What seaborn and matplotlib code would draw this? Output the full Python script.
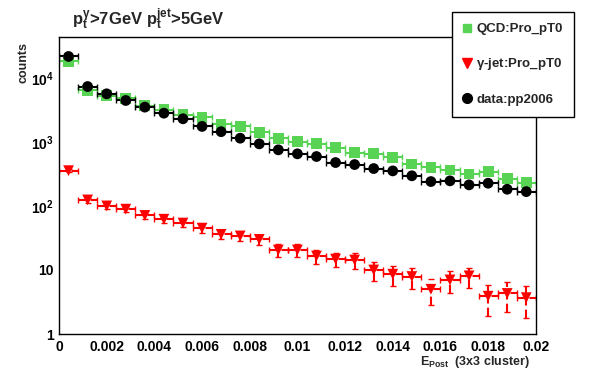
import numpy as np
import pandas as pd
import matplotlib
matplotlib.use("Agg")
import matplotlib.pyplot as plt
import matplotlib.ticker as mticker
from matplotlib.lines import Line2D
import seaborn as sns

# bin centres (0.0008 wide bins, 0 .. 0.02)
e_post = [0.0004, 0.0012, 0.0020, 0.0028, 0.0036, 0.0044, 0.0052, 0.0060, 0.0068,
          0.0076, 0.0084, 0.0092, 0.0100, 0.0108, 0.0116, 0.0124, 0.0132, 0.0140,
          0.0148, 0.0156, 0.0164, 0.0172, 0.0180, 0.0188, 0.0196]

qcd = [18000, 6330, 5220, 4800, 3650, 3160, 2650, 2430, 1900, 1740, 1400, 1140, 1000,
       930, 815, 680, 650, 577, 450, 400, 365, 316, 344, 265, 230]
gjet = [355, 124, 100, 89, 71, 62, 54, 45, 36, 34, 30, 20.5, 20.5, 16.5, 14.8, 14.3,
        10, 8.6, 7.9, 5.0, 7.0, 8.1, 3.9, 4.3, 3.7]
gjet_err = [18.8, 11.1, 10, 9.4, 8.4, 7.9, 7.3, 6.7, 6.0, 5.8, 5.5, 4.5, 4.5, 4.1, 3.8,
            3.8, 3.2, 2.9, 2.8, 2.2, 2.6, 2.8, 2.0, 2.1, 1.9]
data = [21500, 7300, 5620, 4420, 3480, 2800, 2290, 1740, 1440, 1140, 930, 750, 650,
        590, 475, 442, 383, 352, 295, 240, 246, 213, 226, 182, 167]

labels = ["QCD:Pro_pT0", r"$\gamma$-jet:Pro_pT0", "data:pp2006"]
x_ticks = [0, 0.002, 0.004, 0.006, 0.008, 0.01, 0.012, 0.014, 0.016, 0.018, 0.02]

green = "#59d354"
red = "#ff0000"
black = "#000000"

sns.set_theme(style="white")
plt.rcParams["font.family"] = ["Liberation Sans", "DejaVu Sans"]
plt.rcParams["font.weight"] = "bold"
plt.rcParams["mathtext.default"] = "bf"
plt.rcParams["mathtext.fontset"] = "custom"
plt.rcParams["mathtext.bf"] = "Liberation Sans:bold"
plt.rcParams["mathtext.rm"] = "Liberation Sans:bold"
plt.rcParams["mathtext.it"] = "Liberation Sans:bold"

df = pd.DataFrame({
    "E": e_post * 3,
    "counts": qcd + gjet + data,
    "sample": [labels[0]] * 25 + [labels[1]] * 25 + [labels[2]] * 25,
})

fig = plt.figure(figsize=(5.96, 3.72), dpi=100)
ax = fig.add_axes([0.099, 0.102, 0.8, 0.7985])

halfw = 0.0004
ax.errorbar(e_post, qcd, xerr=halfw, fmt="none", ecolor=green, elinewidth=1.5,
            capsize=2, zorder=1)
ax.errorbar(e_post, gjet, xerr=halfw, yerr=gjet_err, fmt="none", ecolor=red,
            elinewidth=1.5, capsize=2, zorder=1)
ax.errorbar(e_post, data, xerr=halfw, fmt="none", ecolor=black, elinewidth=1.5,
            capsize=2.5, zorder=3)
# ROOT-style dashed bars for the simulation samples
for coll in ax.collections:
    coll.set_linestyle((0, (4, 2)))
ax.collections[-1].set_linestyle("-")

sns.scatterplot(data=df, x="E", y="counts", hue="sample", style="sample",
                palette={labels[0]: green, labels[1]: red, labels[2]: black},
                markers={labels[0]: "s", labels[1]: "v", labels[2]: "o"},
                s=60, edgecolor="none", linewidth=0, legend=False, ax=ax, zorder=4)

ax.set_yscale("log")
ax.set_xlim(0, 0.02)
ax.set_ylim(1, 10 ** 4.636)
ax.set_xlabel("")
ax.set_ylabel("")

ax.set_xticks(x_ticks)
ax.xaxis.set_major_formatter(mticker.FuncFormatter(lambda v, p: "%g" % round(v, 4)))
ax.xaxis.set_minor_locator(mticker.MultipleLocator(0.0005))
ax.yaxis.set_major_locator(mticker.FixedLocator([1, 10, 100, 1000, 10000]))
ax.yaxis.set_major_formatter(mticker.FixedFormatter(["1", "10", r"$10^{2}$", r"$10^{3}$", r"$10^{4}$"]))
ax.yaxis.set_minor_locator(mticker.LogLocator(base=10, subs=np.arange(2, 10)))
ax.yaxis.set_minor_formatter(mticker.NullFormatter())

ax.tick_params(axis="both", which="both", direction="in", colors="black",
               labelsize=10, top=False, right=False, width=1)
ax.tick_params(axis="y", which="major", length=10, pad=4)
ax.tick_params(axis="y", which="minor", length=5)
ax.tick_params(axis="x", which="major", length=6, pad=4)
ax.tick_params(axis="x", which="minor", length=3)
for sp in ax.spines.values():
    sp.set_color("black")
    sp.set_linewidth(1)

fig.text(0.12, 0.933, r"$p_{t}^{\gamma}$>7GeV $p_{t}^{jet}$>5GeV", fontsize=12,
         fontweight="bold", va="baseline", ha="left")
fig.text(0.039, 0.887, "counts", rotation=90, fontsize=9, fontweight="bold",
         va="top", ha="center")
fig.text(0.889, 0.02, r"$E_{Post}$  (3x3 cluster)", fontsize=9, fontweight="bold",
         va="baseline", ha="right")

handles = [
    Line2D([], [], marker="s", color=green, linestyle="none", markersize=6),
    Line2D([], [], marker="v", color=red, linestyle="none", markersize=7),
    Line2D([], [], marker="o", color=black, linestyle="none", markersize=7),
]
leg = fig.legend(handles, labels, loc="upper left", bbox_to_anchor=(0.758, 0.968),
                 frameon=True, fancybox=False, edgecolor="black", framealpha=1,
                 prop={"weight": "bold", "size": 9.5}, handlelength=0.6,
                 handletextpad=0.4, labelspacing=1.6, borderpad=0.85, borderaxespad=0)
leg.get_frame().set_linewidth(1)
leg.set_zorder(10)

fig.savefig("out.png", dpi=100)
